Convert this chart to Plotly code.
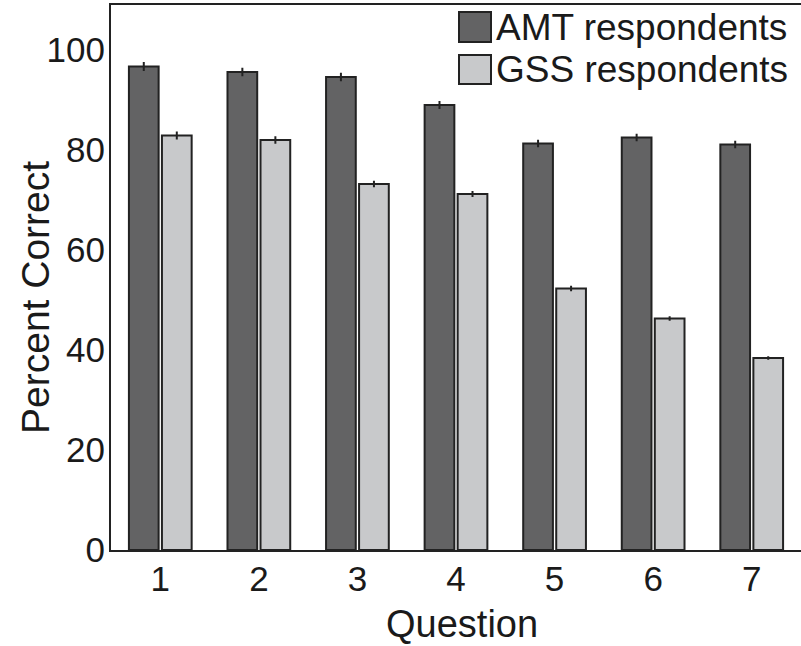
import plotly.graph_objects as go

# ---- data ----
questions = ["1", "2", "3", "4", "5", "6", "7"]
amt_values = [96.7, 95.6, 94.6, 89.0, 81.3, 82.5, 81.1]
amt_errors = [0.9, 0.85, 0.85, 0.8, 0.75, 0.75, 0.75]
gss_values = [82.9, 82.0, 73.2, 71.2, 52.3, 46.3, 38.4]
gss_errors = [0.8, 0.75, 0.65, 0.6, 0.55, 0.45, 0.35]
y_ticks = [0, 20, 40, 60, 80, 100]
series_names = ["AMT respondents", "GSS respondents"]

AMT_COLOR = "#636364"
GSS_COLOR = "#c8c9cb"
EDGE = "#222222"
FONT = "Liberation Sans, Arial, Helvetica, sans-serif"
TXT = "#1a1a1a"

W, H = 801, 646
L, R, T, B = 111, 0, 5, 96
pw, ph = W - L - R, H - T - B


def px(xp):
    return (xp - L) / pw


def py(yp):
    return (H - B - yp) / ph


fig = go.Figure()
fig.add_trace(go.Bar(
    x=questions, y=amt_values, name=series_names[0],
    marker=dict(color=AMT_COLOR, line=dict(color=EDGE, width=2)),
    error_y=dict(type="data", array=amt_errors, visible=True,
                 color=EDGE, thickness=2, width=0),
    showlegend=False,
))
fig.add_trace(go.Bar(
    x=questions, y=gss_values, name=series_names[1],
    marker=dict(color=GSS_COLOR, line=dict(color=EDGE, width=2)),
    error_y=dict(type="data", array=gss_errors, visible=True,
                 color=EDGE, thickness=2, width=0),
    showlegend=False,
))

# custom legend (large swatches)
legend_colors = [AMT_COLOR, GSS_COLOR]
rows = [(12, 42, 27), (55, 84, 69)]
shapes = []
annotations = []
for (y0, y1, yc), name, col in zip(rows, series_names, legend_colors):
    shapes.append(dict(type="rect", xref="paper", yref="paper",
                       x0=px(459), x1=px(491), y0=py(y1), y1=py(y0),
                       fillcolor=col, line=dict(color=EDGE, width=2)))
    annotations.append(dict(xref="paper", yref="paper", x=px(494), y=py(yc),
                            xanchor="left", yanchor="middle", text=name,
                            showarrow=False,
                            font=dict(family=FONT, size=37, color=TXT)))

# axis titles as annotations for precise placement
annotations.append(dict(xref="paper", yref="paper", x=px(462), y=py(624),
                        xanchor="center", yanchor="middle", text="Question",
                        showarrow=False,
                        font=dict(family=FONT, size=38, color=TXT)))
annotations.append(dict(xref="paper", yref="paper", x=px(35), y=py(298),
                        xanchor="center", yanchor="middle",
                        text="Percent Correct", textangle=-90,
                        showarrow=False,
                        font=dict(family=FONT, size=39, color=TXT)))

fig.update_layout(
    width=W, height=H,
    margin=dict(l=L, r=R, t=T, b=B, pad=0, autoexpand=False),
    paper_bgcolor="white", plot_bgcolor="white",
    barmode="group", bargap=0.33, bargroupgap=0.1,
    font=dict(family=FONT, size=35, color=TXT),
    shapes=shapes, annotations=annotations,
    xaxis=dict(
        range=[-0.5, 6.5], showline=True, mirror=True, linecolor=EDGE,
        linewidth=2, ticks="", showgrid=False, zeroline=False,
        tickfont=dict(size=35), ticklabelstandoff=-3, automargin=False,
    ),
    yaxis=dict(
        range=[0, 109], showline=True, mirror=True, linecolor=EDGE,
        linewidth=2, ticks="", showgrid=False, zeroline=False,
        tickvals=y_ticks, tickfont=dict(size=35), ticklabelstandoff=-3,
        automargin=False,
    ),
)

fig.write_html("out.html", config={"displayModeBar": False},
               post_script="document.body.style.margin='0px';")
